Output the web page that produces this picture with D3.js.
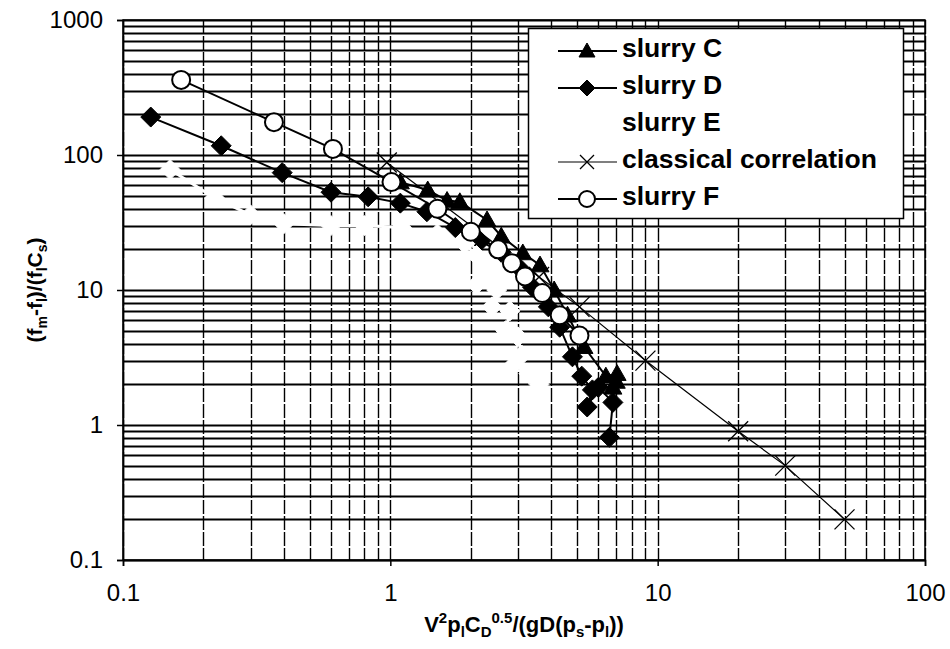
<!DOCTYPE html>
<html>
<head>
<meta charset="utf-8">
<script src="https://cdn.jsdelivr.net/npm/d3@7"></script>
<style>
  html, body { margin: 0; padding: 0; background: #fff; }
  svg { display: block; }
  text { font-family: "Liberation Sans", Arial, Helvetica, sans-serif; fill: #000; }
</style>
</head>
<body>
<svg id="chart" width="950" height="649"></svg>
<script>
// ---- data -------------------------------------------------------------
const xTickValues = [0.1, 1, 10, 100];
const yTickValues = [0.1, 1, 10, 100, 1000];

// slurry C
const slurryC_x = [1.09, 1.38, 1.63, 1.82, 2.3, 2.6, 3.13, 3.63, 4.1, 4.6, 5.3, 6.4, 7.05, 6.8, 7.0];
const slurryC_y = [63, 55, 46, 45, 33, 25, 18.8, 15.3, 10, 6.5, 3.8, 2.3, 2.4, 1.9, 2.1];

// slurry D
const slurryD_x = [0.127, 0.233, 0.394, 0.60, 0.826, 1.09, 1.37, 1.75, 2.17, 2.6, 3.1, 3.4, 3.9, 4.3, 4.8, 5.2, 5.7, 5.45, 6.0, 6.8, 6.6];
const slurryD_y = [191, 117, 74, 53, 49, 44, 38, 29, 23, 19, 14, 10.5, 7.5, 5.3, 3.2, 2.3, 1.82, 1.36, 1.9, 1.47, 0.81];

// slurry E (white markers)
const slurryE_x = [0.15, 0.22, 0.3, 0.4, 0.6, 0.8, 1.1, 1.5, 1.9, 2.1, 2.3, 2.1, 2.5, 2.4, 2.8, 2.7, 3.0, 3.1, 2.9, 3.3, 3.6];
const slurryE_y = [78, 48, 36, 31, 30, 30, 29, 26, 22, 18, 14, 11, 10, 7.5, 7, 5, 4.5, 3.3, 2.8, 2.4, 2.0];

// classical correlation
const classical_x = [0.97, 3.6, 5.1, 9, 20, 30, 50];
const classical_y = [88, 12.5, 7.5, 3, 0.9, 0.5, 0.2];

// slurry F
const slurryF_x = [0.165, 0.367, 0.61, 1.01, 1.5, 2.0, 2.53, 2.85, 3.19, 3.7, 4.3, 5.1];
const slurryF_y = [360, 175, 111, 63, 40, 27, 20, 15.8, 12.6, 9.5, 6.5, 4.6];

const seriesNames = ["slurry C", "slurry D", "slurry E", "classical correlation", "slurry F"];

// ---- layout -----------------------------------------------------------
const svg = d3.select("#chart");
const plotL = 123, plotR = 925, plotT = 20, plotB = 560;

const x = d3.scaleLog().domain([0.1, 100]).range([plotL, plotR]);
const y = d3.scaleLog().domain([0.1, 1000]).range([plotB, plotT]);

// ---- grid -------------------------------------------------------------
const grid = svg.append("g");
grid.selectAll("line.h").data(y.ticks()).join("line")
  .attr("x1", plotL).attr("x2", plotR)
  .attr("y1", d => Math.round(y(d)) + 0.5).attr("y2", d => Math.round(y(d)) + 0.5)
  .attr("stroke", "#000").attr("stroke-width", 1.8);
grid.selectAll("line.v").data(x.ticks()).join("line")
  .attr("y1", plotT).attr("y2", plotB)
  .attr("x1", d => Math.round(x(d)) + 0.5).attr("x2", d => Math.round(x(d)) + 0.5)
  .attr("stroke", "#000").attr("stroke-width", 1.4)
  .attr("stroke-dasharray", "14,2");

// plot frame
svg.append("rect").attr("x", plotL).attr("y", plotT)
  .attr("width", plotR - plotL).attr("height", plotB - plotT)
  .attr("fill", "none").attr("stroke", "#000").attr("stroke-width", 1.5);

// ---- axes -------------------------------------------------------------
const xAxis = svg.append("g").attr("transform", `translate(0,${plotB})`)
  .call(d3.axisBottom(x).tickValues(xTickValues).tickFormat(d => String(d)).tickSize(6).tickPadding(18));
const yAxis = svg.append("g").attr("transform", `translate(${plotL},0)`)
  .call(d3.axisLeft(y).tickValues(yTickValues).tickFormat(d => String(d)).tickSize(6).tickPadding(14));
[xAxis, yAxis].forEach(a => {
  a.select(".domain").attr("stroke", "#000").attr("stroke-width", 1.5);
  a.selectAll(".tick line").attr("stroke", "#000").attr("stroke-width", 1.5);
  a.selectAll(".tick text").attr("font-size", 24).attr("fill", "#000")
    .style("font-family", '"Liberation Sans", Arial, sans-serif');
});

// ---- marker shapes ----------------------------------------------------
const shapes = {
  triangle: s => `M0,${-s}L${s},${s * 0.75}L${-s},${s * 0.75}Z`,
  diamond: s => `M0,${-s}L${s},0L0,${s}L${-s},0Z`,
  cross: s => `M${-s},${-s}L${s},${s}M${-s},${s}L${s},${-s}`
};

function drawMarkers(g, pts, opt) {
  pts.forEach(p => {
    if (opt.shape === "circle") {
      g.append("circle").attr("cx", p[0]).attr("cy", p[1]).attr("r", opt.size)
        .attr("fill", "#fff").attr("stroke", "#000").attr("stroke-width", 2);
    } else if (opt.shape === "cross") {
      g.append("path").attr("transform", `translate(${p[0]},${p[1]})`).attr("d", shapes.cross(opt.size))
        .attr("fill", "none").attr("stroke", "#000").attr("stroke-width", 1.3);
    } else {
      g.append("path").attr("transform", `translate(${p[0]},${p[1]})`).attr("d", shapes[opt.shape](opt.size))
        .attr("fill", opt.fill).attr("stroke", opt.fill).attr("stroke-width", 1);
    }
  });
}

function drawSeries(xs, ys, opt) {
  const pts = xs.map((v, i) => [x(v), y(ys[i])]);
  const g = svg.append("g");
  g.append("path").attr("d", d3.line()(pts))
    .attr("fill", "none").attr("stroke", opt.lineColor).attr("stroke-width", opt.lineWidth);
  drawMarkers(g, pts, opt);
}

const styles = [
  { shape: "triangle", size: 9, fill: "#000", lineColor: "#000", lineWidth: 2 },
  { shape: "diamond", size: 10, fill: "#000", lineColor: "#000", lineWidth: 2 },
  { shape: "diamond", size: 10, fill: "#fff", lineColor: "#fff", lineWidth: 3 },
  { shape: "cross", size: 10, fill: "none", lineColor: "#000", lineWidth: 1.2 },
  { shape: "circle", size: 9, fill: "#fff", lineColor: "#000", lineWidth: 2 }
];

drawSeries(slurryC_x, slurryC_y, styles[0]);
drawSeries(slurryD_x, slurryD_y, styles[1]);
drawSeries(slurryE_x, slurryE_y, styles[2]);
drawSeries(classical_x, classical_y, styles[3]);
drawSeries(slurryF_x, slurryF_y, styles[4]);

// ---- legend -----------------------------------------------------------
const legend = svg.append("g");
legend.append("rect").attr("x", 528.5).attr("y", 28.5).attr("width", 375).attr("height", 190)
  .attr("fill", "#fff").attr("stroke", "#000").attr("stroke-width", 1.5);
seriesNames.forEach((name, i) => {
  const base = 57 + i * 37;
  const cy = base - 6;
  const st = styles[i];
  const lg = legend.append("g");
  lg.append("line").attr("x1", 558).attr("x2", 617).attr("y1", cy).attr("y2", cy)
    .attr("stroke", st.lineColor).attr("stroke-width", st.lineWidth);
  const small = Object.assign({}, st, { size: st.shape === "cross" ? 7 : 8 });
  drawMarkers(lg, [[587, cy]], small);
  lg.append("text").attr("x", 622).attr("y", base)
    .attr("font-size", 26.5).attr("font-weight", "bold").text(name);
});

// ---- axis titles ------------------------------------------------------
const xt = svg.append("text").attr("x", 524).attr("y", 632)
  .attr("text-anchor", "middle").attr("font-size", 22).attr("font-weight", "bold");
[["V", 0], ["2", -9, true], ["p", 9], ["l", 5, true], ["C", -5], ["D", 5, true], ["0.5", -14, true],
 ["/(gD(p", 9], ["s", 5, true], ["-p", -5], ["l", 5, true], ["))", -5]].forEach(([t, dy, sm]) => {
  xt.append("tspan").attr("dy", dy).attr("font-size", sm ? 15 : 22).text(t);
});

const yt = svg.append("text").attr("transform", "translate(42,290) rotate(-90)")
  .attr("text-anchor", "middle").attr("font-size", 21).attr("font-weight", "bold");
[["(f", 0], ["m", 5, true], ["-f", -5], ["l", 5, true], [")/(f", -5], ["l", 5, true], ["C", -5], ["s", 5, true], [")", -5]]
  .forEach(([t, dy, sm]) => {
    yt.append("tspan").attr("dy", dy).attr("font-size", sm ? 14 : 21).text(t);
  });
</script>
</body>
</html>
